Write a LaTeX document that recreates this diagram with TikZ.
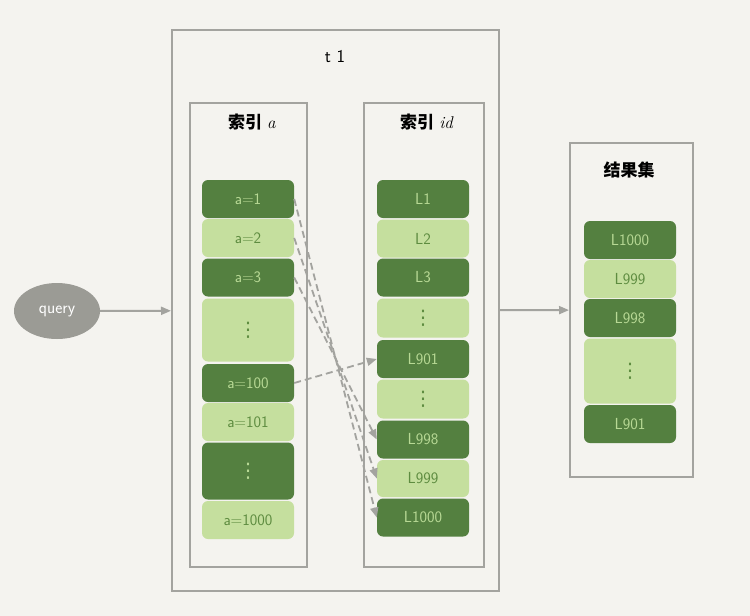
\documentclass[tikz,border=0pt]{standalone}
\usepackage{fontspec}
\newfontfamily\cjk{Noto Sans CJK SC}
\newfontfamily\symf{DejaVu Sans}
\usetikzlibrary{arrows.meta,shapes.geometric}
\definecolor{bgc}{HTML}{F4F3EF}
\definecolor{frame}{HTML}{A3A39F}
\definecolor{dkgreen}{HTML}{548040}
\definecolor{ltgreen}{HTML}{C5DF9E}
\definecolor{dktext}{HTML}{B8D995}
\definecolor{lttext}{HTML}{5E8C40}
\definecolor{qgray}{HTML}{9B9B95}
\newcommand{\vdotsglyph}{{\symf\fontsize{20}{22}\selectfont ⋮}}

\begin{document}
\begin{tikzpicture}[x=1pt,y=-1pt,
     box/.style={draw=frame,line width=2pt,inner sep=0pt},
     cell/.style={rounded corners=6pt,minimum width=92pt,inner sep=0pt,
       font=\sffamily\fontsize{16}{18}\selectfont},
     dk/.style={cell,fill=dkgreen,text=dktext},
     lt/.style={cell,fill=ltgreen,text=lttext},
     ttl/.style={font=\fontsize{17}{19}\selectfont},
     link/.style={draw=frame,line width=1.8pt,dash pattern=on 7pt off 4pt,
       -{Triangle[length=10pt,width=8pt]}}]
    \fill[bgc] (0,0) rectangle (750,616);
    \useasboundingbox (0,0) rectangle (750,616);
    % frames
    \node[box,minimum width=327pt,minimum height=561pt] (t1) at (335.5,310.5) {};
    \node[box,minimum width=117pt,minimum height=464pt] (boxa) at (248.5,335) {};
    \node[box,minimum width=120pt,minimum height=464pt] (boxid) at (424,335) {};
    \node[box,minimum width=123pt,minimum height=334pt] (res) at (631.5,310) {};
    \node[ttl,font=\sffamily\fontsize{18}{20}\selectfont] (t1lab) at (335,57) {t 1};
    \node[ttl] (alab) at (252,122) {{\cjk\bfseries 索引} \textit{a}};
    \node[ttl] (idlab) at (427,122) {{\cjk\bfseries 索引} \textit{id}};
    \node[ttl] (reslab) at (629,170) {\cjk\bfseries 结果集};
    % index a
    \node[dk,minimum height=38pt] (a1) at (248,199) {a=1};
    \node[lt,minimum height=38pt] (a2) at (248,238) {a=2};
    \node[dk,minimum height=38pt] (a3) at (248,277.5) {a=3};
    \node[lt,minimum height=63pt] (adots) at (248,330) {\vdotsglyph};
    \node[dk,minimum height=38pt] (a100) at (248,383) {a=100};
    \node[lt,minimum height=38pt] (a101) at (248,422) {a=101};
    \node[dk,minimum height=57pt] (adots2) at (248,471) {\vdotsglyph};
    \node[lt,minimum height=38pt] (a1000) at (248,520) {a=1000};
    % index id
    \node[dk,minimum height=38pt] (id1) at (423,199) {L1};
    \node[lt,minimum height=38pt] (id2) at (423,238.5) {L2};
    \node[dk,minimum height=38pt] (id3) at (423,277.5) {L3};
    \node[lt,minimum height=39pt] (iddots) at (423,318) {\vdotsglyph};
    \node[dk,minimum height=38pt] (id901) at (423,359) {L901};
    \node[lt,minimum height=39pt] (iddots2) at (423,399) {\vdotsglyph};
    \node[dk,minimum height=38pt] (id998) at (423,439.5) {L998};
    \node[lt,minimum height=37pt] (id999) at (423,478.5) {L999};
    \node[dk,minimum height=38pt] (id1000) at (423,517.5) {L1000};
    % result set
    \node[dk,minimum height=38pt] (r1000) at (630,240) {L1000};
    \node[lt,minimum height=38pt] (r999) at (630,279) {L999};
    \node[dk,minimum height=38pt] (r998) at (630,318) {L998};
    \node[lt,minimum height=65pt] (rdots) at (630,371) {\vdotsglyph};
    \node[dk,minimum height=38pt] (r901) at (630,424) {L901};
    % query
    \node[ellipse,fill=qgray,text=white,minimum width=86pt,minimum height=56pt,
      inner sep=0pt,font=\sffamily\fontsize{17}{19}\selectfont] (query) at (57,311) {query};
    \draw[draw=frame,line width=2pt,-{Triangle[length=10pt,width=8pt]}] (query) -- (t1);
    \draw[draw=frame,line width=2pt,-{Triangle[length=10pt,width=8pt]}] (t1) -- (res);
    % lookups
    \draw[link] (a1.east) -- (id1000.west);
    \draw[link] (a2.east) -- (id999.west);
    \draw[link] (a3.east) -- (id998.west);
    \draw[link] (a100.east) -- (id901.west);
\end{tikzpicture}
\end{document}
